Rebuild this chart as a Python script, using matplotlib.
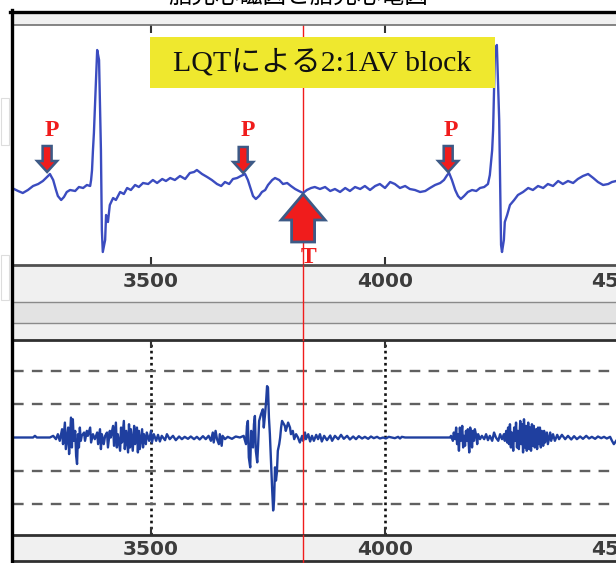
import matplotlib
matplotlib.use("Agg")
import matplotlib.pyplot as plt
from matplotlib.patches import Rectangle, Polygon
from matplotlib.lines import Line2D
from matplotlib import transforms

# upper trace: (ms, mV)
upper_trace = [
    (3203, 0.00), (3216, -0.03), (3226, -0.05), (3237, -0.02), (3248, 0.02), (3259, 0.04),
    (3269, 0.07), (3280, 0.12), (3284, 0.14), (3291, 0.08), (3297, -0.02), (3301, -0.08),
    (3308, -0.12), (3314, -0.09), (3320, -0.04), (3327, -0.02), (3338, -0.03), (3346, 0.01),
    (3355, 0.00), (3363, 0.03), (3370, 0.02), (3372, 0.08), (3374, 0.18), (3376, 0.38),
    (3378, 0.55), (3380, 0.78), (3385, 1.38), (3389, 1.28), (3393, 0.38), (3395, -0.42),
    (3397, -0.64), (3402, -0.52), (3404, -0.27), (3408, -0.34), (3412, -0.17), (3419, -0.10),
    (3425, -0.12), (3434, -0.04), (3442, -0.06), (3449, 0.00), (3457, -0.02), (3466, 0.03),
    (3474, 0.01), (3483, 0.05), (3494, 0.04), (3504, 0.08), (3513, 0.05), (3524, 0.09),
    (3532, 0.07), (3541, 0.10), (3551, 0.08), (3562, 0.12), (3573, 0.09), (3583, 0.15),
    (3592, 0.16), (3598, 0.18), (3609, 0.14), (3620, 0.11), (3630, 0.08), (3641, 0.04),
    (3650, 0.02), (3658, 0.06), (3667, 0.04), (3675, 0.09), (3684, 0.10), (3692, 0.12),
    (3701, 0.14), (3707, 0.08), (3714, -0.02), (3718, -0.08), (3724, -0.11), (3731, -0.08),
    (3737, -0.04), (3744, -0.02), (3750, 0.03), (3759, 0.08), (3765, 0.10), (3774, 0.08),
    (3782, 0.04), (3791, 0.05), (3799, 0.02), (3808, -0.01), (3816, -0.03), (3825, -0.05),
    (3833, -0.02), (3842, 0.00), (3850, 0.01), (3861, -0.01), (3872, 0.01), (3883, -0.03),
    (3893, -0.01), (3904, -0.04), (3915, 0.00), (3925, -0.03), (3936, 0.01), (3947, -0.01),
    (3957, 0.02), (3968, -0.02), (3979, 0.02), (3989, 0.04), (4000, 0.00), (4011, 0.06),
    (4021, 0.04), (4032, 0.00), (4043, 0.02), (4053, -0.01), (4064, -0.02), (4075, -0.04),
    (4086, -0.03), (4096, 0.00), (4107, 0.03), (4118, 0.05), (4126, 0.08), (4133, 0.13),
    (4137, 0.15), (4143, 0.08), (4150, -0.02), (4156, -0.08), (4162, -0.11), (4169, -0.08),
    (4177, -0.04), (4186, -0.02), (4195, -0.03), (4203, 0.00), (4212, 0.01), (4220, 0.04),
    (4224, 0.13), (4227, 0.28), (4229, 0.38), (4231, 0.58), (4235, 1.38), (4239, 1.43),
    (4244, 0.68), (4248, -0.57), (4250, -0.64), (4254, -0.52), (4256, -0.34), (4261, -0.27),
    (4267, -0.17), (4276, -0.12), (4284, -0.07), (4295, -0.04), (4306, 0.00), (4316, -0.02),
    (4327, 0.02), (4338, 0.00), (4348, 0.04), (4359, 0.02), (4370, 0.07), (4380, 0.04),
    (4391, 0.07), (4402, 0.05), (4412, 0.09), (4423, 0.12), (4434, 0.14), (4445, 0.10),
    (4455, 0.06), (4466, 0.03), (4477, 0.04), (4485, 0.06), (4494, 0.07),
]

# lower trace: (ms, grid units)
lower_trace = [
    (3203, 0), (3248, 0), (3252, 0.05), (3256, 0), (3284, 0), (3291, 0.05), (3297, -0.05),
    (3301, 0.1), (3305, -0.1), (3310, 0.25), (3312, -0.2), (3316, 0.45), (3318, -0.35),
    (3323, 0.3), (3325, -0.5), (3329, 0.6), (3331, -0.3), (3333, 0.55), (3335, -0.1),
    (3338, 0.2), (3340, -0.55), (3342, -0.8), (3344, 0.1), (3346, -0.3), (3348, 0.3),
    (3350, -0.1), (3352, 0.05), (3357, 0.15), (3359, -0.1), (3363, 0.2), (3365, 0.05),
    (3370, 0.3), (3372, -0.15), (3376, 0.1), (3380, -0.05), (3385, 0.15), (3387, -0.2),
    (3391, 0.25), (3393, -0.35), (3395, 0.1), (3399, -0.2), (3402, 0.05), (3406, 0.15),
    (3408, -0.3), (3412, 0.2), (3414, 0.0), (3419, 0.35), (3421, -0.25), (3425, 0.45),
    (3427, -0.3), (3429, 0.1), (3434, -0.4), (3436, 0.3), (3438, -0.15), (3442, 0.5),
    (3444, -0.35), (3447, 0.2), (3451, -0.45), (3453, 0.4), (3455, -0.3), (3457, 0.25),
    (3461, -0.4), (3464, 0.35), (3466, -0.2), (3470, 0.3), (3472, -0.45), (3474, 0.2),
    (3476, -0.35), (3481, 0.25), (3483, -0.3), (3485, 0.1), (3489, -0.2), (3491, 0.15),
    (3496, -0.1), (3500, 0.2), (3502, -0.15), (3506, 0.1), (3511, -0.1), (3515, 0.08),
    (3519, -0.12), (3523, 0.05), (3530, -0.08), (3534, 0.1), (3540, -0.05), (3547, 0.05),
    (3553, -0.08), (3560, 0.03), (3566, -0.05), (3572, 0.02), (3579, -0.04), (3585, 0.03),
    (3592, -0.05), (3598, 0.02), (3604, -0.06), (3611, 0.04), (3617, -0.05), (3623, 0.05),
    (3628, -0.1), (3632, 0.15), (3634, -0.15), (3638, 0.2), (3641, -0.05), (3645, -0.2),
    (3647, 0.1), (3651, -0.25), (3653, 0.05), (3658, -0.05), (3664, 0.02), (3673, -0.04),
    (3681, 0.03), (3690, 0), (3698, 0.05), (3703, -0.2), (3705, 0.35), (3707, 0.5),
    (3709, -0.6), (3712, -0.9), (3714, 0.2), (3718, -0.3), (3720, 0.4), (3722, 0.65),
    (3724, -0.4), (3727, -0.75), (3729, -0.2), (3731, 0.5), (3735, 0.7), (3739, 0.85),
    (3741, 0.3), (3744, 0.75), (3746, 1.1), (3748, 1.55), (3750, 1.5), (3752, 0.6),
    (3754, 0.1), (3756, -0.6), (3759, -1.6), (3761, -2.2), (3763, -1.9), (3765, -0.9),
    (3767, -1.3), (3769, -1.05), (3771, -0.4), (3774, -0.2), (3776, 0.0), (3778, 0.3),
    (3780, 0.5), (3782, 0.45), (3786, 0.35), (3788, 0.2), (3793, 0.45), (3797, 0.3),
    (3799, 0.1), (3803, 0.2), (3806, -0.05), (3810, 0.1), (3814, 0.0), (3818, -0.15),
    (3823, 0.05), (3825, -0.1), (3829, 0.15), (3831, -0.05), (3836, 0.1), (3840, -0.12),
    (3844, 0.05), (3848, -0.1), (3853, 0.08), (3857, -0.05), (3861, 0.1), (3865, -0.12),
    (3870, 0.05), (3876, -0.08), (3883, 0.06), (3887, -0.1), (3893, 0.05), (3900, -0.05),
    (3906, 0.08), (3912, -0.04), (3919, 0.05), (3925, -0.06), (3932, 0.03), (3938, -0.05),
    (3944, 0.04), (3951, -0.03), (3957, 0.02), (3964, -0.04), (3970, 0.03), (3976, -0.02),
    (3983, 0.02), (3989, -0.03), (3996, 0), (4002, -0.03), (4008, 0.02), (4015, 0),
    (4021, -0.02), (4028, 0.02), (4032, -0.03), (4036, 0.02), (4043, 0), (4139, 0),
    (4141, 0.05), (4145, -0.1), (4147, 0.15), (4150, -0.05), (4152, 0.3), (4154, -0.2),
    (4156, 0.1), (4158, -0.4), (4160, 0.3), (4162, -0.1), (4165, 0.35), (4167, -0.3),
    (4169, 0.05), (4171, -0.25), (4173, 0.2), (4175, -0.1), (4177, 0.25), (4180, -0.45),
    (4182, 0.3), (4184, 0.1), (4186, -0.3), (4188, 0.2), (4190, -0.1), (4192, 0.25),
    (4195, 0.05), (4197, -0.2), (4199, 0.1), (4203, -0.05), (4207, 0.05), (4212, -0.05),
    (4216, 0.1), (4220, -0.08), (4224, 0.05), (4229, -0.1), (4233, 0.15), (4237, 0.0),
    (4242, -0.1), (4246, 0.1), (4250, -0.05), (4254, 0.1), (4256, -0.1), (4259, 0.2),
    (4261, -0.15), (4263, 0.3), (4265, -0.2), (4267, 0.4), (4269, -0.3), (4271, 0.15),
    (4274, -0.4), (4276, 0.3), (4278, -0.1), (4280, 0.45), (4282, -0.3), (4284, 0.2),
    (4286, -0.35), (4289, 0.5), (4291, -0.2), (4293, 0.4), (4295, -0.45), (4297, 0.55),
    (4299, -0.3), (4301, 0.35), (4303, -0.4), (4306, 0.45), (4308, -0.35), (4310, 0.3),
    (4312, -0.4), (4314, 0.4), (4316, -0.25), (4318, 0.35), (4320, -0.3), (4323, 0.25),
    (4325, -0.35), (4327, 0.3), (4329, -0.2), (4331, 0.3), (4333, -0.3), (4335, 0.2),
    (4338, -0.25), (4340, 0.2), (4342, -0.15), (4346, 0.15), (4348, -0.2), (4353, 0.15),
    (4355, -0.1), (4359, 0.1), (4363, -0.1), (4368, 0.08), (4372, -0.05), (4378, 0.08),
    (4385, -0.05), (4391, 0.05), (4398, -0.06), (4404, 0.04), (4410, -0.05), (4417, 0.03),
    (4423, -0.04), (4430, 0.05), (4436, -0.03), (4442, 0.02), (4449, -0.04), (4455, 0.03),
    (4462, -0.02), (4468, 0.02), (4474, -0.03), (4481, 0.02), (4485, -0.1), (4489, -0.2),
    (4494, -0.1),
]

p_times = [3278, 3697, 4135]
p_tips = [0.16, 0.15, 0.16]
p_label_times = [3288, 3707, 4141]
t_time = 3825
t_tip = -0.06
ticks = [3500, 4000, 4500]
tick_labels = ["3500", "4000", "4500"]
box_label = "LQTによる2:1AV block"
title = "胎児心磁図と胎児心電図"

W, H = 616, 563
MS_PER_PX = 500 / 234
RED = "#f01c1c"
EDGE = "#3d5a86"


def fx(px):
    return px / W


def fy(py):
    return 1 - py / H


fig = plt.figure(figsize=(W / 100, H / 100), dpi=100)
fig.patch.set_facecolor("white")

x_left, x_right = 13, 640
xlim = (3500 - (151 - x_left) * MS_PER_PX, 4000 + (x_right - 385) * MS_PER_PX)


def panel(top, bottom):
    ax = fig.add_axes([fx(x_left), fy(bottom), fx(x_right) - fx(x_left), fy(top) - fy(bottom)])
    ax.set_xlim(*xlim)
    for s in ax.spines.values():
        s.set_visible(False)
    ax.set_xticks(ticks, tick_labels)
    ax.tick_params(axis="x", direction="in", top=True, bottom=True, length=5.5, width=1.5,
                   color="#333333", labelsize=14.5, labelcolor="#3c3c3c")
    ax.tick_params(axis="y", length=0, labelleft=False)
    for lab in ax.get_xticklabels():
        lab.set_fontweight("bold")
    return ax


# upper panel
ax1 = panel(25, 265)
ax1.set_ylim(-0.77, 1.63)
ax1.set_yticks([])
ax1.tick_params(axis="x", pad=5)
ax1.plot([p[0] for p in upper_trace], [p[1] for p in upper_trace], color="#3b4cc0", lw=1.7, zorder=3)
ax1.axvline(t_time, color=RED, lw=1.0, zorder=2)

for t, v, lt in zip(p_times, p_tips, p_label_times):
    tr = transforms.ScaledTranslation(t, v, ax1.transData)
    arrow = Polygon([(0, 0), (-10, 11), (-4.5, 11), (-4.5, 26), (4.5, 26), (4.5, 11), (10, 11)],
                    closed=True, transform=tr, fc=RED, ec=EDGE, lw=1.8, zorder=5)
    ax1.add_artist(arrow)
    ax1.text(lt, 0.57, "P", color=RED, fontsize=17, fontweight="bold",
             family="Liberation Serif", ha="center", va="center", zorder=5)

tr = transforms.ScaledTranslation(t_time, t_tip, ax1.transData)
big = Polygon([(0, 0), (-22, -26), (-11.5, -26), (-11.5, -48), (11.5, -48), (11.5, -26), (22, -26)],
              closed=True, transform=tr, fc=RED, ec=EDGE, lw=2, zorder=6)
ax1.add_artist(big)
ax1.text(t_time + 11, -0.70, "T", color=RED, fontsize=17, fontweight="bold",
         family="Liberation Serif", ha="center", va="center", zorder=6, clip_on=False)

# lower panel
ax2 = panel(340, 535)
ax2.set_ylim(-2.94, 2.94)
ax2.set_yticks([-2, -1, 1, 2])
ax2.tick_params(axis="x", pad=3.5)
ax2.yaxis.grid(True, ls=(0, (4.5, 3.5)), color="#606060", lw=1.7)
ax2.xaxis.grid(True, ls=(0, (1, 1.3)), color="#111111", lw=1.9)
ax2.set_axisbelow(True)
ax2.plot([p[0] for p in lower_trace], [p[1] for p in lower_trace], color="#1f3f9f", lw=1.7, zorder=3)
ax2.axvline(t_time, color=RED, lw=1.0, zorder=4)

# grey bands of the viewer
bands = [(12, 25, "#f0f0f0"), (265, 302, "#f0f0f0"), (302, 323, "#e3e3e3"),
         (323, 340, "#f0f0f0"), (535, 561, "#f0f0f0")]
for top, bottom, c in bands:
    fig.add_artist(Rectangle((fx(13), fy(bottom)), 1, fy(top) - fy(bottom),
                             transform=fig.transFigure, fc=c, ec="none", zorder=-1))

fig.add_artist(Line2D([fx(303)] * 2, [fy(265), fy(340)], transform=fig.transFigure,
                      color=RED, lw=1.0, zorder=12))
fig.add_artist(Line2D([fx(303)] * 2, [fy(535), fy(563)], transform=fig.transFigure,
                      color=RED, lw=1.0, zorder=12))

rules = [(25, "#707070", 1.2), (265, "#505050", 2.0), (302, "#8a8a8a", 1.0), (323, "#8a8a8a", 1.0),
         (340, "#303030", 2.0), (535, "#303030", 2.0), (561, "#303030", 2.0)]
for py, c, lw in rules:
    fig.add_artist(Line2D([fx(12), 1], [fy(py)] * 2, transform=fig.transFigure,
                          color=c, lw=lw, zorder=10))
fig.add_artist(Line2D([fx(10), 1], [fy(11.5)] * 2, transform=fig.transFigure, color="black", lw=2.4, zorder=11))
fig.add_artist(Line2D([fx(11.5)] * 2, [fy(10), 0], transform=fig.transFigure, color="black", lw=2.4, zorder=11))

for top, bottom in [(98, 145), (255, 300)]:
    fig.add_artist(Rectangle((fx(1), fy(bottom)), fx(8), fy(top) - fy(bottom),
                             transform=fig.transFigure, fc="none", ec="#dddddd", lw=0.8, zorder=1))

# yellow note
fig.add_artist(Rectangle((fx(150), fy(88)), fx(345), fy(37) - fy(88), transform=fig.transFigure,
                         fc="#efe82e", ec="none", zorder=7))
fig.text(fx(322), fy(63), box_label, ha="center", va="center", fontsize=21.5,
         family=["Liberation Serif", "Noto Sans CJK JP"], color="#111111", zorder=8)

# slide title, cut off by the crop
fig.text(fx(298), fy(9), title, ha="center", va="bottom", fontsize=17,
         family=["Noto Sans CJK JP"], color="black", zorder=8)

fig.savefig("out.png", dpi=100)
